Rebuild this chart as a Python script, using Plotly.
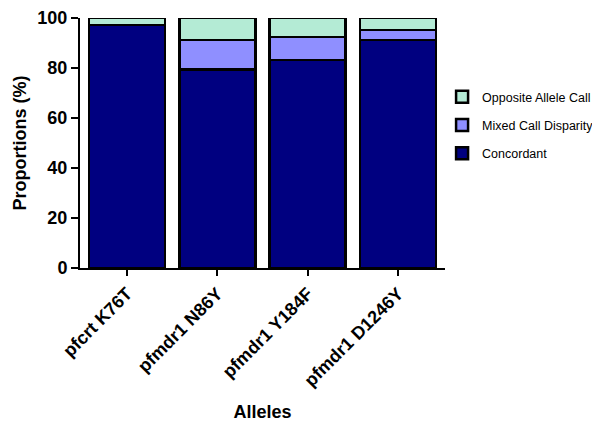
import plotly.graph_objects as go

alleles = ["pfcrt K76T", "pfmdr1 N86Y", "pfmdr1 Y184F", "pfmdr1 D1246Y"]
concordant = [97.2, 79.4, 83.2, 91.2]
mixed_disparity = [0.0, 11.9, 9.2, 4.0]
opposite_call = [2.8, 8.7, 7.6, 4.8]

# (name, values, colour, legend position)
series = [
    ("Concordant", concordant, "#000080", 3),
    ("Mixed Call Disparity", mixed_disparity, "#8F8FFF", 2),
    ("Opposite Allele Call", opposite_call, "#B4EBD5", 1),
]

fig = go.Figure()
for name, vals, col, rank in series:
    fig.add_trace(go.Bar(
        x=alleles, y=vals, name=name, legendgroup=name, legendrank=rank,
        marker=dict(color=col, line=dict(color="black", width=2.5)),
    ))

font = "Liberation Sans, Arial, sans-serif"
fig.update_layout(
    barmode="stack",
    bargap=0.16,
    width=600, height=422,
    margin=dict(l=72, r=163, t=10, b=162, autoexpand=False),
    plot_bgcolor="white", paper_bgcolor="white",
    font=dict(family=font, color="black"),
    legend=dict(
        x=0.992, y=0.572, xanchor="left", yanchor="middle",
        traceorder="grouped", tracegroupgap=9,
        font=dict(size=12.5, family=font),
    ),
    xaxis=dict(
        range=[-0.52, 3.52], showline=True, linecolor="black", linewidth=2,
        ticks="outside", ticklen=6, tickwidth=2, tickcolor="black",
        tickangle=-45, automargin=False,
        tickfont=dict(size=18, family=font, weight="bold"),
        title=dict(text="<b>Alleles</b>", font=dict(size=18), standoff=16),
    ),
    yaxis=dict(
        range=[0, 100], showline=True, linecolor="black", linewidth=2,
        ticks="outside", ticklen=7, tickwidth=2, tickcolor="black",
        dtick=20, showgrid=False, zeroline=False, automargin=False,
        tickfont=dict(size=18, family=font, weight="bold"),
        title=dict(text="<b>Proportions (%)</b>", font=dict(size=18), standoff=6),
    ),
)

fig.write_html("out.html")
